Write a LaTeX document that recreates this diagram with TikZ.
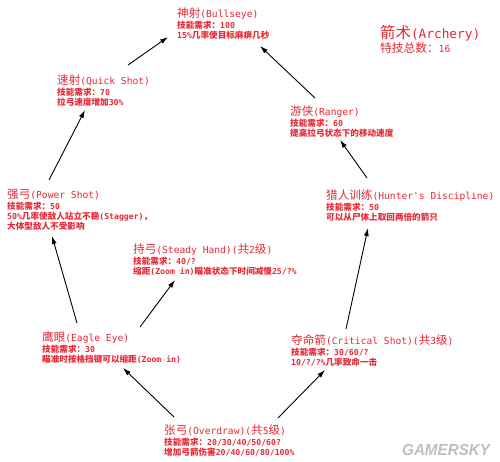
\documentclass[tikz,border=0pt]{standalone}
\usepackage{fontspec}
\setmonofont{DejaVu Sans Mono}[Scale=0.83]
\newfontfamily\latb{DejaVu Sans Mono}[Scale=0.95]
\newfontfamily\cjk{Noto Sans CJK SC}
\newfontfamily\wmfont{Liberation Sans}
\usetikzlibrary{arrows.meta,calc}
\definecolor{skillred}{RGB}{232,40,52}
\newcommand\zh[1]{{\cjk #1}}
\newcommand\ttl[1]{{\ttfamily\mdseries\fontsize{11.6}{12}\selectfont #1}}
\tikzset{
  skill/.style={anchor=base west, inner sep=0pt, align=left, text=skillred,
    font=\latb\bfseries\fontsize{8.6}{10}\selectfont},
  arr/.style={draw=black, line width=0.9pt, -{Latex[length=8pt,width=5pt]}},
}
\begin{document}
\begin{tikzpicture}[x=1pt,y=-1pt]
\fill[white] (0,0) rectangle (500,461);
\useasboundingbox (0,0) rectangle (500,461);

\node[skill] (bull) at (177,38) {\ttl{\zh{神射}(Bullseye)}\\[1pt]\zh{技能需求：}100\\15\%\zh{几率使目标麻痹几秒}};
\node[skill, font=\ttfamily\fontsize{11.7}{14}\selectfont] (arch) at (380,52) {{\fontsize{15.4}{16}\selectfont\zh{箭术}(Archery)}\\\zh{特技总数：}16};
\node[skill] (qs) at (57,105) {\ttl{\zh{速射}(Quick Shot)}\\[1pt]\zh{技能需求：}70\\\zh{拉弓速度增加}30\%};
\node[skill] (rg) at (290,136) {\ttl{\zh{游侠}(Ranger)}\\[1pt]\zh{技能需求：}60\\\zh{提高拉弓状态下的移动速度}};
\node[skill] (ps) at (7,229) {\ttl{\zh{强弓}(Power Shot)}\\[1pt]\zh{技能需求：}50\\50\%\zh{几率使敌人站立不稳}(Stagger)\zh{，}\\\zh{大体型敌人不受影响}};
\node[skill] (hd) at (326,220) {\ttl{\zh{猎人训练}(Hunter's Discipline)}\\[1pt]\zh{技能需求：}50\\\zh{可以从尸体上取回两倍的箭只}};
\node[skill] (sh) at (133,274) {\ttl{\zh{持弓}(Steady Hand)(\zh{共}2\zh{级})}\\[1pt]\zh{技能需求：}40/?\\\zh{缩距}(Zoom in)\zh{瞄准状态下时间减慢}25/?\%};
\node[skill] (ee) at (42,362) {\ttl{\zh{鹰眼}(Eagle Eye)}\\[1pt]\zh{技能需求：}30\\\zh{瞄准时按格挡键可以缩距}(Zoom in)};
\node[skill] (cs) at (291,365) {\ttl{\zh{夺命箭}(Critical Shot)(\zh{共}3\zh{级})}\\[1pt]\zh{技能需求：}30/60/?\\10/?/?\%\zh{几率致命一击}};
\node[skill] (od) at (164,455) {\ttl{\zh{张弓}(Overdraw)(\zh{共}5\zh{级})}\\[1pt]\zh{技能需求：}20/30/40/50/60?\\\zh{增加弓箭伤害}20/40/60/80/100\%};

\node[anchor=base west, inner sep=0pt, text=gray!50, font=\wmfont\bfseries\itshape\fontsize{16}{16}\selectfont, xscale=0.95] (wm) at (402,455) {GAMERSKY};

\draw[arr] ($(qs.base west)+(71,-40)$) -- ($(bull.base west)+(-9,-1)$);
\draw[arr] ($(rg.base west)+(25,-38)$) -- ($(bull.base west)+(83,8)$);
\draw[arr] ($(ps.base west)+(42,-49)$) -- ($(qs.base west)+(28,5)$);
\draw[arr] ($(hd.base west)+(41,-42)$) -- ($(rg.base west)+(50,4)$);
\draw[arr] ($(ee.base west)+(35,-39)$) -- ($(ps.base west)+(45,7)$);
\draw[arr] ($(ee.base west)+(98,-35)$) -- ($(sh.base west)+(42,6)$);
\draw[arr] ($(od.base west)+(10,-38)$) -- ($(ee.base west)+(81,6)$);
\draw[arr] ($(od.base west)+(114,-37)$) -- ($(cs.base west)+(34,5)$);
\draw[arr] ($(cs.base west)+(55,-36)$) -- ($(hd.base west)+(42,8)$);
\end{tikzpicture}
\end{document}
